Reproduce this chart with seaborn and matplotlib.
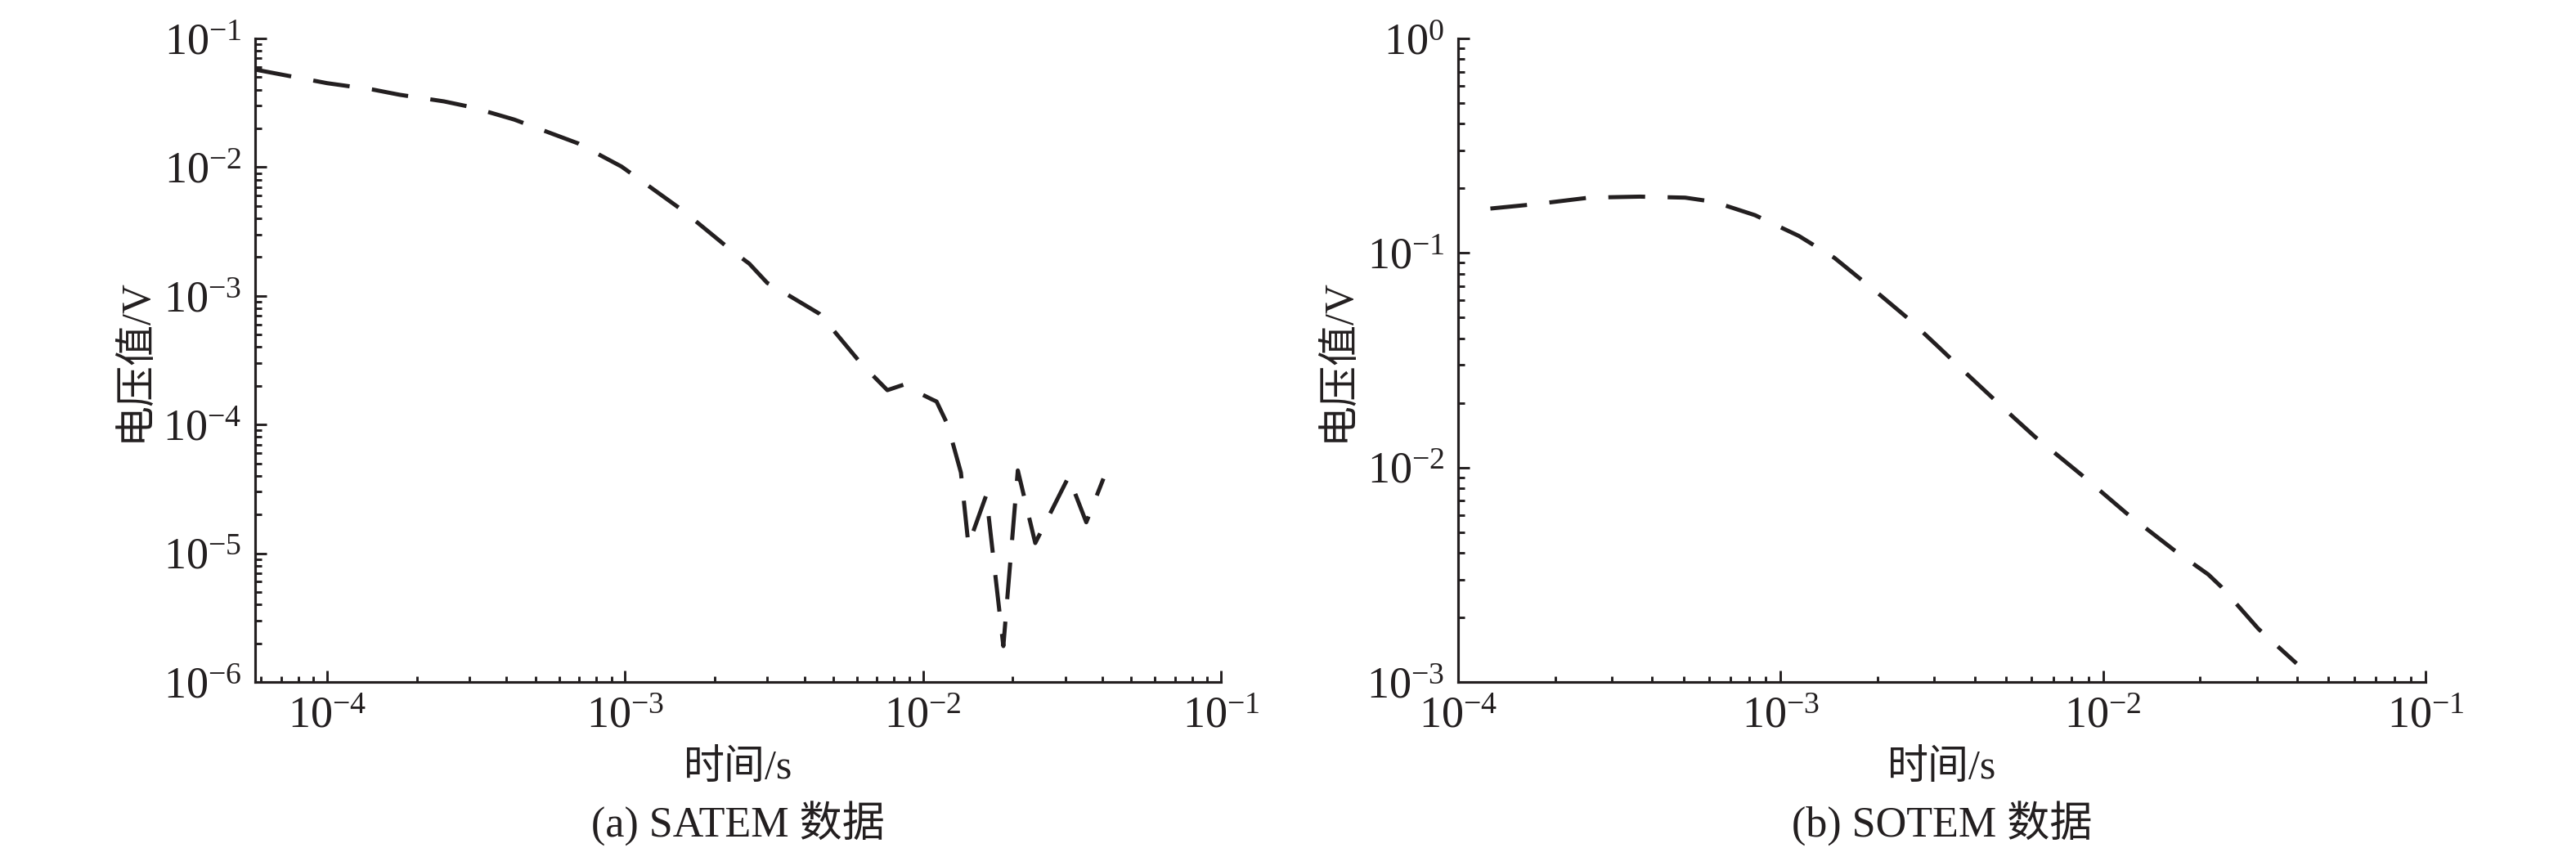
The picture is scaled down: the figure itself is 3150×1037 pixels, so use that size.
import numpy as np
import pandas as pd
import matplotlib
matplotlib.use("Agg")
import matplotlib.pyplot as plt
import seaborn as sns
from matplotlib.ticker import LogLocator, NullFormatter

# (a) SATEM 数据: 时间 (s) / 电压值 (V)
satem_t = [5.73e-5, 1.00e-4, 1.42e-4, 1.75e-4, 2.47e-4, 3.06e-4, 4.25e-4, 6.95e-4,
           9.73e-4, 1.24e-3, 1.56e-3, 2.25e-3, 2.61e-3, 3.00e-3, 3.20e-3, 4.48e-3,
           4.74e-3, 6.21e-3, 7.59e-3, 8.61e-3, 9.06e-3, 1.07e-2, 1.11e-2, 1.21e-2,
           1.34e-2, 1.42e-2, 1.63e-2, 1.86e-2, 2.08e-2, 2.38e-2, 3.08e-2, 3.53e-2,
           4.03e-2]
satem_v = [5.73e-2, 4.49e-2, 4.01e-2, 3.65e-2, 3.24e-2, 2.92e-2, 2.34e-2, 1.53e-2,
           1.01e-2, 6.76e-3, 4.61e-3, 2.30e-3, 1.78e-3, 1.26e-3, 1.16e-3, 7.28e-4,
           6.28e-4, 2.96e-4, 1.85e-4, 2.04e-4, 1.90e-4, 1.57e-4, 1.51e-4, 9.95e-5,
           4.23e-5, 1.16e-5, 2.83e-5, 1.90e-6, 4.40e-5, 1.20e-5, 3.93e-5, 1.74e-5,
           3.80e-5]

# (b) SOTEM 数据
sotem_t = [1.26e-4, 1.75e-4, 2.55e-4, 3.66e-4, 5.06e-4, 6.22e-4, 8.33e-4, 1.14e-3,
           1.47e-3, 2.04e-3, 2.49e-3, 3.11e-3, 3.78e-3, 5.11e-3, 6.15e-3, 8.57e-3,
           1.18e-2, 1.67e-2, 2.12e-2, 2.33e-2, 3.03e-2, 3.98e-2]
sotem_v = [0.161, 0.169, 0.181, 0.183, 0.181, 0.173, 0.150, 0.120,
           0.0948, 0.0635, 0.0494, 0.0361, 0.0273, 0.0179, 0.0139, 9.24e-3,
           6.13e-3, 4.09e-3, 3.17e-3, 2.77e-3, 1.77e-3, 1.22e-3]

sns.set_style("ticks")
plt.rcParams["font.family"] = ["Liberation Serif", "Noto Sans CJK SC", "DejaVu Sans"]
plt.rcParams["mathtext.fontset"] = "stix"
plt.rcParams["axes.unicode_minus"] = True

ink = "#231f20"

fig = plt.figure(figsize=(10.5, 3.4567), dpi=300)
ax1 = fig.add_axes([0.0990, 0.1958, 0.3750, 0.7589])
ax2 = fig.add_axes([0.5660, 0.1958, 0.3756, 0.7589])

paneles = [
    (ax1, satem_t, satem_v, (5.73e-5, 1e-1), (1e-6, 1e-1), "(a) SATEM 数据"),
    (ax2, sotem_t, sotem_v, (1e-4, 1e-1), (1e-3, 1e0), "(b) SOTEM 数据"),
]

for ax, t, v, xlim, ylim, titulo in paneles:
    df = pd.DataFrame({"t": t, "v": v})
    sns.lineplot(data=df, x="t", y="v", ax=ax, color=ink, linewidth=1.2,
                 linestyle=(0, (9, 5.5)), estimator=None, sort=False)
    ax.set_xscale("log")
    ax.set_yscale("log")
    ax.set_xlim(*xlim)
    ax.set_ylim(*ylim)

    for eje in (ax.xaxis, ax.yaxis):
        eje.set_major_locator(LogLocator(base=10, numticks=20))
        eje.set_minor_locator(LogLocator(base=10, subs=np.arange(2, 10), numticks=100))
        eje.set_minor_formatter(NullFormatter())

    ax.tick_params(which="both", direction="in", width=0.7, color=ink,
                   labelcolor=ink, labelsize=13, pad=4)
    ax.tick_params(which="major", length=3.3)
    ax.tick_params(which="minor", length=1.8)
    sns.despine(ax=ax)
    for s in ("left", "bottom"):
        ax.spines[s].set_linewidth(0.75)
        ax.spines[s].set_color(ink)

    ax.set_xlabel("时间/s", fontsize=12, color=ink)
    ax.set_ylabel("电压值/V", fontsize=12, color=ink)
    ax.xaxis.label.set_va("center")
    ax.yaxis.label.set_va("center")
    ax.xaxis.set_label_coords(0.5, -0.135)
    ax.yaxis.set_label_coords(-0.124, 0.5)

    pos = ax.get_position()
    fig.text((pos.x0 + pos.x1) / 2, 0.028, titulo, ha="center", va="center",
             fontsize=12.5, color=ink)

fig.savefig("out.png", dpi=300)
